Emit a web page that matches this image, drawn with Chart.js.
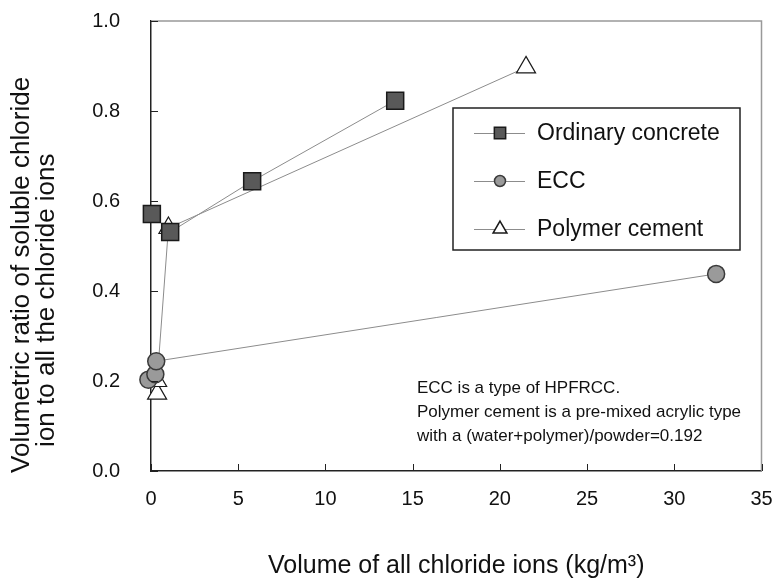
<!DOCTYPE html>
<html>
<head>
<meta charset="utf-8">
<script src="https://cdn.jsdelivr.net/npm/chart.js@4.4.0/dist/chart.umd.min.js"></script>
<style>
  body { margin: 0; background: #fff; }
  #wrap { width: 775px; height: 580px; }
</style>
</head>
<body>
<div id="wrap"><canvas id="chart" width="775" height="580"></canvas></div>
<script>
// data
var seriesNames = ["Ordinary concrete", "ECC", "Polymer cement"];
var ordinaryX = [0.05, 1.1, 5.8, 14.0];
var ordinaryY = [0.571, 0.531, 0.644, 0.823];
var eccX = [-0.15, 0.25, 0.3, 32.4];
var eccY = [0.203, 0.215, 0.244, 0.438];
var polymerX = [0.35, 0.35, 1.0, 21.5];
var polymerY = [0.172, 0.2, 0.54, 0.897];
var xTicks = [0, 5, 10, 15, 20, 25, 30, 35];
var yTicks = [0.0, 0.2, 0.4, 0.6, 0.8, 1.0];
var noteLines = [
  "ECC is a type of HPFRCC.",
  "Polymer cement is a pre-mixed acrylic type",
  "with a (water+polymer)/powder=0.192"
];

function toPoints(xs, ys) {
  return xs.map(function(x, i) { return { x: x, y: ys[i] }; });
}

var tickFont = "'Liberation Sans Narrow', 'Liberation Sans', sans-serif";
var textFont = "'Liberation Sans', Arial, sans-serif";

// inward ticks, top/right frame, the note and the boxed legend
var extras = {
  id: "extras",
  afterDraw: function(chart) {
    var ctx = chart.ctx;
    var a = chart.chartArea;
    var xs = chart.scales.x, ys = chart.scales.y;
    ctx.save();
    ctx.strokeStyle = "#999";
    ctx.lineWidth = 1.5;
    ctx.beginPath();
    ctx.moveTo(a.left, a.top);
    ctx.lineTo(a.right, a.top);
    ctx.lineTo(a.right, a.bottom);
    ctx.stroke();

    ctx.strokeStyle = "#222";
    ctx.lineWidth = 1;
    ctx.beginPath();
    xTicks.forEach(function(v) {
      var px = Math.round(xs.getPixelForValue(v)) + 0.5;
      ctx.moveTo(px, a.bottom);
      ctx.lineTo(px, a.bottom - 7);
    });
    yTicks.forEach(function(v) {
      var py = Math.round(ys.getPixelForValue(v)) + 0.5;
      ctx.moveTo(a.left, py);
      ctx.lineTo(a.left + 7, py);
    });
    ctx.stroke();

    // note
    ctx.fillStyle = "#111";
    ctx.font = "17px " + textFont;
    ctx.textAlign = "left";
    ctx.textBaseline = "middle";
    noteLines.forEach(function(t, i) {
      ctx.fillText(t, 417, 388 + i * 24);
    });

    // legend
    var lx = 453, ly = 108, lw = 287, lh = 142;
    ctx.fillStyle = "#fff";
    ctx.fillRect(lx, ly, lw, lh);
    ctx.strokeStyle = "#222";
    ctx.lineWidth = 1.5;
    ctx.strokeRect(lx, ly, lw, lh);
    ctx.font = "23px " + textFont;
    chart.data.datasets.forEach(function(ds, i) {
      var cy = ly + 25 + i * 48;
      ctx.strokeStyle = ds.borderColor;
      ctx.lineWidth = 1;
      ctx.beginPath();
      ctx.moveTo(474, cy + 0.5);
      ctx.lineTo(525, cy + 0.5);
      ctx.stroke();
      ctx.fillStyle = ds.pointBackgroundColor;
      ctx.strokeStyle = ds.pointBorderColor;
      ctx.lineWidth = 1.5;
      Chart.helpers.drawPoint(ctx, {
        pointStyle: ds.pointStyle,
        rotation: 0,
        radius: ds.legendRadius,
        borderWidth: 1.5
      }, 500, cy);
      ctx.fillStyle = "#111";
      ctx.fillText(ds.label, 537, cy + 1);
    });
    ctx.restore();
  }
};

new Chart(document.getElementById("chart"), {
  type: "scatter",
  data: {
    datasets: [
      {
        label: seriesNames[0],
        data: toPoints(ordinaryX, ordinaryY),
        showLine: true,
        borderColor: "#8c8c8c",
        borderWidth: 1,
        pointStyle: "rect",
        pointRadius: 12,
        legendRadius: 8,
        pointBackgroundColor: "#595959",
        pointBorderColor: "#1a1a1a",
        pointBorderWidth: 1.5
      },
      {
        label: seriesNames[1],
        data: toPoints(eccX, eccY),
        showLine: true,
        borderColor: "#8c8c8c",
        borderWidth: 1,
        pointStyle: "circle",
        pointRadius: 8.5,
        legendRadius: 5.5,
        pointBackgroundColor: "#9a9a9a",
        pointBorderColor: "#3a3a3a",
        pointBorderWidth: 1.5
      },
      {
        label: seriesNames[2],
        data: toPoints(polymerX, polymerY),
        showLine: true,
        borderColor: "#8c8c8c",
        borderWidth: 1,
        pointStyle: "triangle",
        pointRadius: 11,
        legendRadius: 8,
        pointBackgroundColor: "#ffffff",
        pointBorderColor: "#1a1a1a",
        pointBorderWidth: 1.2
      }
    ]
  },
  options: {
    responsive: false,
    animation: false,
    clip: false,
    layout: { padding: { top: 21, right: 12, left: 0, bottom: 0 } },
    plugins: {
      legend: { display: false },
      tooltip: { enabled: false }
    },
    scales: {
      x: {
        type: "linear",
        min: 0,
        max: 35,
        afterBuildTicks: function(s) { s.ticks = xTicks.map(function(v) { return { value: v }; }); },
        afterFit: function(s) { s.height = 109; },
        grid: { drawOnChartArea: false, drawTicks: true, tickLength: 15, tickColor: "rgba(0,0,0,0)" },
        border: { color: "#222", width: 1.5 },
        ticks: {
          padding: 1,
          color: "#111",
          font: { family: tickFont, size: 20 },
          callback: function(v) { return v; }
        },
        title: {
          display: true,
          text: "Volume of all chloride ions (kg/m\u00b3)",
          color: "#111",
          font: { family: textFont, size: 25, lineHeight: 1 },
          padding: { top: 30, bottom: 1 }
        }
      },
      y: {
        type: "linear",
        min: 0,
        max: 1,
        afterBuildTicks: function(s) { s.ticks = yTicks.map(function(v) { return { value: v }; }); },
        afterFit: function(s) { s.width = 151; },
        grid: { drawOnChartArea: false, drawTicks: true, tickLength: 30, tickColor: "rgba(0,0,0,0)" },
        border: { color: "#222", width: 1.5 },
        ticks: {
          padding: 1,
          color: "#111",
          font: { family: tickFont, size: 20 },
          callback: function(v) { return v.toFixed(1); }
        },
        title: {
          display: true,
          text: ["Volumetric ratio of soluble chloride        ", "ion to all the chloride ions               "],
          color: "#111",
          font: { family: textFont, size: 26, lineHeight: 0.96 },
          padding: { top: 9.5, bottom: 0 }
        }
      }
    }
  },
  plugins: [extras]
});
</script>
</body>
</html>
